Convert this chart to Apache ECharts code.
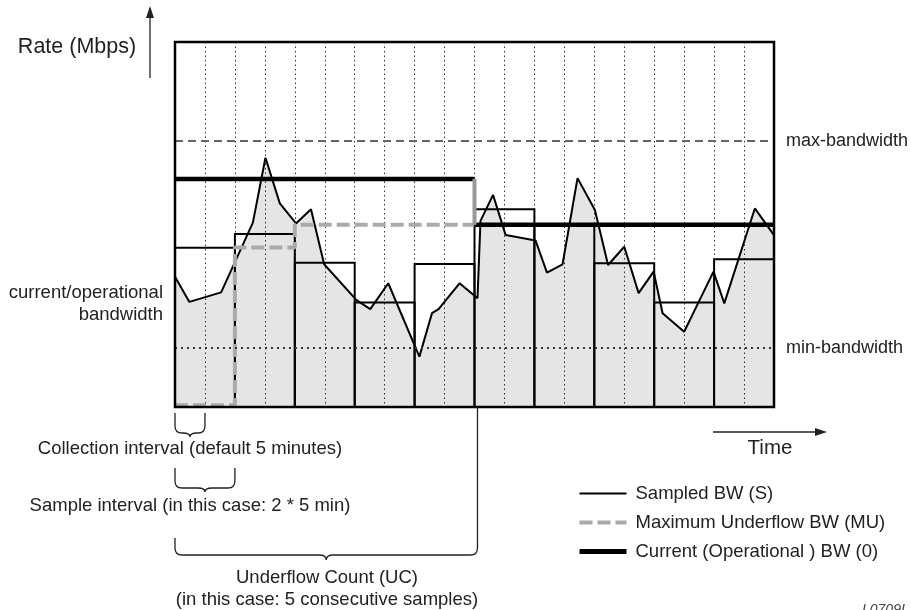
<!DOCTYPE html>
<html>
<head>
<meta charset="utf-8">
<script src="https://cdn.jsdelivr.net/npm/echarts@6/dist/echarts.min.js"></script>
<style>
html, body { margin: 0; padding: 0; background: #fff; }
#main { width: 911px; height: 610px; }
</style>
</head>
<body>
<div id="main"></div>
<script>
// collected values (every few minutes), time in minutes, rate in arbitrary Mbps units
const collectTimes = [0, 2.4, 7.7, 13, 15.1, 17.5, 20.2, 22.7, 24.9, 30.3, 32.6, 35.6, 40.8, 42.9, 44, 47.5, 50.5, 51, 53.1, 55.2, 60.2, 62.1, 64.7, 67.2, 70.1, 72.3, 75, 77.4, 79.9, 81.4, 85, 89.9, 91.7, 96.8, 100]
const collectRates = [35.7, 28.8, 31.4, 50.5, 68.3, 55.8, 50.3, 54.2, 39.1, 29.3, 26.8, 33.9, 13.8, 25.7, 26.8, 33.9, 29.8, 51, 58.1, 47.1, 45.6, 36.8, 39.1, 62.7, 54, 38.9, 43.9, 31.2, 37.1, 25.7, 20.6, 37.1, 28.4, 54.4, 47.1]

// sampled bandwidth, one value per sample interval (2 * 5 min)
const sampleStart = [0, 10, 20, 30, 40, 50, 60, 70, 80, 90]
const sampleRates = [43.6, 47.4, 39.5, 28.6, 39.2, 54.2, 50, 39.4, 28.6, 40.5]
const sampleLen = 10

// maximum underflow bandwidth
const muTimes = [0, 10, 10, 20, 20, 50]
const muRates = [0.5, 0.5, 43.7, 43.7, 49.9, 49.9]

// current (operational) bandwidth
const curTimes = [0, 50, 50, 50, 100]
const curRates = [62.5, 62.5, '-', 49.9, 49.9]

const maxBandwidth = 72.9
const minBandwidth = 16.1

// brace spans in minutes: collection interval, sample interval, underflow count
const braceSpans = [[0, 5], [0, 10], [0, 50.5]]

const FONT = "'Liberation Sans', Arial, sans-serif"

const chart = echarts.init(document.getElementById('main'), null, { renderer: 'canvas' })

const zip = (a, b) => a.map((v, i) => [v, b[i]])

function brace(x0, x1, yTopL, yTopR, yBot, yTip) {
    const r = 7, xm = (x0 + x1) / 2
    return `M${x0},${yTopL} L${x0},${yBot - r} Q${x0},${yBot} ${x0 + r},${yBot} L${xm - r},${yBot} Q${xm},${yBot} ${xm},${yTip} Q${xm},${yBot} ${xm + r},${yBot} L${x1 - r},${yBot} Q${x1},${yBot} ${x1},${yBot - r} L${x1},${yTopR}`
}

const annoStyle = { stroke: '#222', lineWidth: 1.3, fill: 'none' }
const braceY = [[413, 413, 433, 437], [468, 468, 488, 492], [538, null, 555, 560]]

chart.setOption({
    animation: false,
    textStyle: { fontFamily: FONT },
    grid: { left: 175, top: 42, right: 137, bottom: 203 },
    xAxis: {
        type: 'value', min: 0, max: 100, interval: 5,
        axisLine: { show: false }, axisTick: { show: false }, axisLabel: { show: false },
        splitLine: { show: true, lineStyle: { color: '#333', width: 1, type: [1.5, 3] } }
    },
    yAxis: { type: 'value', min: 0, max: 100, show: false },
    legend: {
        orient: 'vertical', left: 577, top: 484, padding: 0,
        itemWidth: 47, itemHeight: 14, itemGap: 10,
        itemStyle: { opacity: 0 },
        textStyle: { fontFamily: FONT, fontSize: 18.5, color: '#222', lineHeight: 18, padding: [0, 0, 0, 4] },
        data: [
            { name: 'Sampled BW (S)', lineStyle: { color: '#000', width: 2 } },
            { name: 'Maximum Underflow BW (MU)', lineStyle: { color: '#aaa', width: 4, type: [13, 5] } },
            { name: 'Current (Operational ) BW (0)', lineStyle: { color: '#000', width: 5 } }
        ]
    },
    series: [
        {
            name: 'Sampled BW (S)', type: 'line', z: 2,
            data: zip(collectTimes, collectRates),
            symbol: 'none',
            lineStyle: { color: '#000', width: 2 },
            itemStyle: { color: '#000' },
            areaStyle: { color: 'rgba(0,0,0,0.1)', opacity: 1 }
        },
        {
            name: 'samples', type: 'custom', z: 3,
            data: sampleStart.map((s, i) => [s, s + sampleLen, sampleRates[i]]),
            renderItem(params, api) {
                const p0 = api.coord([api.value(0), api.value(2)])
                const p1 = api.coord([api.value(1), 0])
                return {
                    type: 'rect',
                    shape: { x: p0[0], y: p0[1], width: p1[0] - p0[0], height: p1[1] - p0[1] },
                    style: { fill: 'none', stroke: '#000', lineWidth: 2 }
                }
            }
        },
        {
            name: 'Maximum Underflow BW (MU)', type: 'line', z: 4, clip: false,
            data: zip(muTimes, muRates),
            symbol: 'none',
            lineStyle: { color: '#aaa', width: 4, type: [13, 5] },
            itemStyle: { color: '#aaa' }
        },
        {
            name: 'Current (Operational ) BW (0)', type: 'line', z: 5,
            data: zip(curTimes, curRates),
            symbol: 'none',
            lineStyle: { color: '#000', width: 4.5 },
            itemStyle: { color: '#000' },
            markLine: {
                silent: true, symbol: 'none',
                label: { position: 'end', distance: 12, fontFamily: FONT, fontSize: 18, color: '#222', formatter: '{b}' },
                data: [
                    { name: 'max-bandwidth', yAxis: maxBandwidth, lineStyle: { color: '#666', width: 2, type: [8, 5] } },
                    { name: 'min-bandwidth', yAxis: minBandwidth, lineStyle: { color: '#333', width: 2, type: [2, 4] } }
                ]
            }
        },
        {
            name: 'transition', type: 'line', z: 6,
            data: [[50, muRates[muRates.length - 1]], [50, curRates[0]]],
            symbol: 'none',
            lineStyle: { color: '#999', width: 4 }
        },
        {
            name: 'frame', type: 'custom', z: 10, clip: false, silent: true,
            data: [[0]],
            renderItem(params, api) {
                const tl = api.coord([0, 100]), br = api.coord([100, 0])
                const children = [{
                    type: 'rect',
                    shape: { x: tl[0], y: tl[1], width: br[0] - tl[0], height: br[1] - tl[1] },
                    style: { fill: 'none', stroke: '#000', lineWidth: 2.5 }
                }]
                braceSpans.forEach((span, i) => {
                    const x0 = api.coord([span[0], 0])[0], x1 = api.coord([span[1], 0])[0]
                    const b = braceY[i]
                    children.push({
                        type: 'path',
                        shape: { pathData: brace(x0, x1, b[0], b[1] === null ? br[1] : b[1], b[2], b[3]) },
                        style: annoStyle
                    })
                })
                return { type: 'group', children }
            }
        }
    ]
})

const txt = (x, y, text, size, align) => ({
    type: 'text', x, y, z: 100,
    style: { text, fill: '#222', font: `${size}px ${FONT}`, textAlign: align || 'center', textVerticalAlign: 'middle' }
})

chart.setOption({
    graphic: [
        // axis arrows
        { type: 'line', z: 100, shape: { x1: 150, y1: 78, x2: 150, y2: 14 }, style: annoStyle },
        { type: 'polygon', z: 100, shape: { points: [[150, 6], [146, 18], [154, 18]] }, style: { fill: '#222' } },
        { type: 'line', z: 100, shape: { x1: 713, y1: 432, x2: 818, y2: 432 }, style: annoStyle },
        { type: 'polygon', z: 100, shape: { points: [[827, 432], [815, 428], [815, 436]] }, style: { fill: '#222' } },
        // texts
        txt(77, 47, 'Rate (Mbps)', 21.5),
        txt(163, 293, 'current/operational', 18.5, 'right'),
        txt(163, 315, 'bandwidth', 18.5, 'right'),
        txt(770, 448, 'Time', 20.5),
        txt(190, 449, 'Collection interval (default 5 minutes)', 18.5),
        txt(190, 506, 'Sample interval (in this case: 2 * 5 min)', 18.5),
        txt(327, 578, 'Underflow Count (UC)', 18.5),
        txt(327, 600, '(in this case: 5 consecutive samples)', 18.5),
        { type: 'text', x: 862, y: 603, z: 100, style: { text: 'I.0709I', fill: '#444', font: `italic 14px ${FONT}`, textAlign: 'left', textVerticalAlign: 'top' } }
    ]
})
</script>
</body>
</html>
